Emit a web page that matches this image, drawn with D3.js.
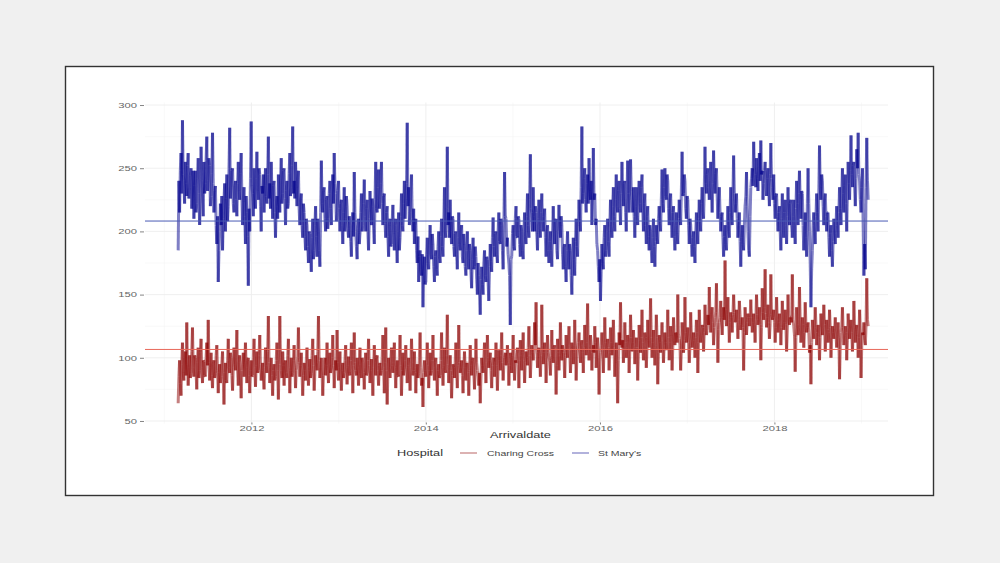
<!DOCTYPE html>
<html>
<head>
<meta charset="utf-8">
<script src="https://cdn.jsdelivr.net/npm/d3@7"></script>
<style>
  html, body { margin: 0; padding: 0; background: #f0f0f0; }
  svg { display: block; font-family: "Liberation Sans", Arial, sans-serif; }
</style>
</head>
<body>
<svg id="chart" width="1000" height="563"></svg>
<script>
// Daily arrivals sampled every third day, 28 Feb 2011 – 29 Jan 2019
const seriesStart = new Date(2011, 1, 28);
const sampleStepDays = 3;

const hospitals = ["Charing Cross", "St Mary's"];

const charingCross = [
  64,85, 98,80, 70,95, 112,88, 82,100, 105,86, 128,95, 78,92, 102,84, 88,105,
  124,92, 85,102, 100,88, 75,96, 108,84, 90,104, 115,92, 80,98, 97,86, 85,100,
  112,94, 130,96, 82,92, 104,86, 76,95, 98,84, 88,102, 110,90, 72,88, 95,80,
  85,96, 105,84, 63,88, 96,82, 80,98, 115,92, 88,104, 100,86, 74,92, 108,95,
  90,100, 122,90, 78,96, 102,84, 68,90, 95,104, 85,96, 112,92, 80,98, 100,86,
  72,90, 98,85, 86,100, 115,92, 77,94, 105,88, 90,102, 118,95, 82,90, 96,84,
  75,92, 108,94, 88,105, 133,96, 80,92, 100,86, 70,90, 95,82, 85,98, 112,90,
  67,95, 133,100, 90,84, 105,94, 78,96, 98,88, 84,102, 115,92, 72,90, 100,85,
  88,98, 110,92, 76,90, 95,100, 124,96, 85,94, 104,88, 70,86, 96,90, 82,98,
  108,92, 78,90, 99,84, 88,102, 115,94, 74,88, 102,96, 90,105, 133,98, 84,92,
  100,88, 70,86, 95,100, 86,94, 112,90, 80,95, 104,88, 92,100, 118,94, 76,90,
  98,90, 122,96, 82,92, 105,88, 74,90, 96,84, 88,98, 110,92, 79,94, 101,88,
  86,98, 112,90, 72,94, 120,96, 90,86, 100,92, 78,95, 108,88, 84,100, 96,88,
  75,92, 104,86, 88,98, 115,94, 80,90, 99,84, 70,92, 110,96, 86,100, 102,90,
  78,94, 96,86, 90,100, 118,92, 72,96, 124,90, 63,88, 100,92, 84,98, 108,94,
  88,96, 112,90, 76,92, 98,86, 85,100, 118,94, 70,90, 104,86, 92,98, 110,92,
  80,94, 100,88, 74,92, 115,96, 86,90, 105,92, 72,88, 95,84, 88,100, 120,92,
  78,84, 61,88, 98,90, 85,96, 112,94, 76,90, 104,86, 90,98, 118,92, 82,96,
  100,88, 70,90, 95,84, 86,98, 120,92, 78,94, 108,90, 88,102, 134,95, 80,92,
  102,90, 68,86, 95,92, 84,96, 112,88, 76,94, 126,96, 88,92, 98,86, 72,92,
  105,92, 82,96, 96,88, 70,90, 110,94, 86,98, 100,88, 75,92, 115,96, 90,86,
  78,88, 64,84, 100,94, 88,100, 112,92, 80,96, 118,100, 92,98, 104,90, 76,94,
  98,100, 85,96, 112,94, 74,92, 106,98, 90,102, 120,96, 82,94, 100,104, 94,98,
  110,96, 78,94, 104,100, 88,102, 118,96, 82,98, 96,104, 108,95, 76,98, 114,102,
  90,104, 120,98, 80,96, 105,100, 94,108, 125,102, 84,98, 110,104, 98,106, 128,110,
  144,108, 92,104, 108,100, 85,102, 142,110, 95,104, 112,100, 80,96, 118,104, 100,98,
  86,102, 122,100, 96,108, 110,98, 71,94, 115,104, 90,102, 128,106, 98,110, 104,100,
  84,102, 118,104, 100,110, 125,106, 88,100, 112,108, 95,104, 130,110, 82,100, 108,112,
  120,106, 96,110, 114,104, 88,108, 126,110, 102,112, 143,108, 98,106, 118,110, 90,104,
  110,104, 125,112, 92,106, 116,100, 71,98, 104,110, 120,106, 88,108, 132,112, 100,110,
  115,108, 90,104, 124,112, 102,110, 130,108, 85,100, 112,96, 64,98, 120,110, 144,115,
  108,114, 96,110, 128,112, 100,108, 118,114, 88,106, 134,116, 105,112, 122,110, 95,108,
  116,108, 82,104, 126,114, 104,116, 138,112, 98,110, 120,116, 92,108, 130,114, 108,118,
  147,116, 100,112, 122,108, 94,110, 134,116, 79,104, 118,112, 104,118, 128,114, 96,110,
  120,112, 106,118, 138,116, 98,112, 125,118, 90,108, 132,114, 110,120, 118,112, 150,118,
  115,110, 90,106, 128,118, 104,114, 148,120, 112,116, 124,112, 96,110, 136,118, 108,114,
  120,114, 100,116, 130,120, 88,112, 138,122, 112,118, 126,124, 105,120, 142,126, 118,122,
  134,126, 156,130, 120,134, 140,128, 110,124, 132,136, 159,128, 96,122, 128,132, 145,130,
  118,132, 140,130, 177,138, 125,134, 148,130, 112,128, 136,132, 120,134, 150,136, 128,130,
  138,128, 115,130, 145,134, 122,126, 132,124, 90,120, 140,130, 118,128, 135,132, 125,130,
  146,132, 120,128, 135,126, 112,130, 150,134, 126,130, 140,126, 98,124, 155,136, 130,140,
  170,135, 124,132, 142,128, 115,126, 166,134, 130,132, 138,128, 112,124, 148,130, 120,128,
  135,126, 110,124, 145,130, 122,128, 138,126, 105,122, 150,130, 126,132, 132,128, 166,130,
  125,118, 89,116, 140,126, 118,124, 156,130, 112,122, 132,126, 108,120, 144,126, 120,124,
  128,120, 104,110, 79,112, 130,122, 115,124, 140,126, 110,120, 126,118, 98,116, 135,124,
  118,124, 142,126, 105,118, 130,122, 112,120, 138,124, 100,116, 125,120, 115,122, 132,118,
  108,118, 128,116, 83,110, 120,124, 140,122, 110,118, 125,120, 98,114, 135,124, 115,122,
  130,120, 105,118, 145,126, 112,122, 126,118, 100,116, 138,122, 84,110, 120,118, 128,114,
  110,126, 163,130, 125
];

const stMarys = [
  185,240, 215,248, 262,230, 288,245, 240,222, 255,238, 228,252, 262,226, 235,244, 250,218,
  232,248, 210,236, 248,215, 222,242, 258,230, 205,228, 267,240, 228,212, 255,230, 238,256,
  275,232, 240,258, 252,220, 228,246, 278,238, 215,232, 236,205, 190,212, 160,185, 200,222,
  205,228, 185,210, 225,238, 200,226, 245,208, 220,250, 282,226, 235,248, 250,222, 215,236,
  240,225, 212,238, 255,232, 225,246, 262,228, 205,224, 235,212, 190,228, 215,196, 157,218,
  200,242, 287,236, 230,212, 250,228, 218,242, 263,232, 225,250, 245,220, 200,236, 230,245,
  215,236, 250,228, 222,245, 275,226, 238,218, 255,232, 210,236, 240,215, 195,220, 228,210,
  245,228, 215,240, 258,222, 230,248, 250,226, 205,232, 240,218, 222,246, 262,228, 235,252,
  283,230, 240,226, 255,235, 220,242, 248,218, 205,225, 230,205, 195,222, 215,196, 185,210,
  205,188, 175,200, 198,182, 168,195, 210,178, 185,205, 220,196, 180,210, 200,185, 172,215,
  256,222, 215,232, 235,210, 200,225, 228,202, 210,230, 240,218, 205,228, 245,222, 262,238,
  230,208, 215,232, 240,218, 200,222, 225,205, 190,215, 235,200, 210,228, 220,202, 195,212,
  205,192, 180,206, 215,196, 247,215, 200,188, 178,202, 210,190, 198,215, 230,200, 205,222,
  241,212, 200,218, 225,200, 185,210, 232,215, 205,226, 220,202, 190,225, 255,218, 215,235,
  249,218, 225,238, 255,222, 205,228, 230,206, 195,215, 220,196, 180,205, 210,188, 190,208,
  221,198, 185,205, 210,190, 175,200, 215,185, 195,212, 230,205, 200,222, 240,210, 225,238,
  286,220, 235,205, 215,232, 245,210, 200,218, 190,205, 210,185, 175,196, 160,180, 185,170,
  165,182, 140,168, 180,158, 160,182, 195,175, 170,190, 205,182, 178,198, 190,172, 160,180,
  185,170, 165,188, 200,180, 175,196, 210,188, 180,205, 235,200, 195,218, 267,205, 215,195,
  225,200, 190,212, 210,188, 180,198, 200,182, 170,195, 215,190, 185,200, 205,180, 175,198,
  190,172, 165,185, 200,178, 170,190, 185,168, 155,178, 195,170, 172,188, 180,162, 150,175,
  165,150, 134,162, 172,158, 150,175, 185,165, 160,180, 178,160, 145,172, 190,176, 168,195,
  211,188, 180,198, 200,182, 175,200, 215,192, 190,210, 205,185, 170,205, 247,212, 210,188,
  195,182, 175,165, 126,178, 180,198, 205,188, 185,210, 220,196, 195,212, 210,190, 180,205,
  200,185, 178,200, 215,196, 190,212, 230,205, 195,225, 261,218, 215,200, 235,212, 200,220,
  215,198, 185,210, 225,202, 195,215, 230,208, 200,212, 218,195, 180,200, 205,185, 175,192,
  200,185, 172,198, 220,200, 190,208, 210,185, 178,200, 221,202, 195,212, 205,182, 170,188,
  190,172, 160,185, 200,180, 170,190, 185,165, 150,175, 195,178, 165,192, 210,188, 180,205,
  225,210, 200,235, 283,222, 230,242, 250,225, 215,238, 245,222, 258,232, 225,240, 205,228,
  266,225, 230,205, 210,190, 185,172, 160,178, 145,168, 190,175, 170,195, 205,180, 185,200,
  210,192, 180,205, 225,205, 195,220, 235,212, 200,225, 245,220, 215,232, 240,218, 205,230,
  255,232, 220,238, 240,215, 200,228, 256,230, 215,240, 257,232, 225,215, 235,212, 195,220,
  235,212, 205,228, 240,222, 215,235, 245,218, 200,222, 230,205, 190,212, 220,196, 185,205,
  200,185, 175,195, 210,188, 172,192, 205,195, 190,210, 220,206, 200,225, 249,222, 215,235,
  250,228, 225,245, 240,218, 205,225, 230,208, 195,215, 220,196, 185,205, 215,198, 190,210,
  225,210, 205,232, 263,228, 230,245, 240,218, 210,228, 225,205, 190,210, 205,190, 180,195,
  200,188, 175,198, 215,200, 190,210, 225,208, 200,222, 235,215, 210,232, 267,238, 230,245,
  250,235, 225,240, 255,232, 215,238, 264,240, 230,246, 250,228, 210,225, 235,215, 200,212,
  215,195, 180,196, 205,190, 185,205, 220,200, 195,215, 235,212, 205,228, 260,230, 215,222,
  230,210, 195,205, 215,192, 172,195, 205,190, 185,205, 220,228, 247,220, 200,185, 180,212,
  235,242, 250,236, 271,250, 245,235, 258,242, 232,250, 262,240, 272,245, 248,225, 238,248,
  255,240, 228,242, 250,232, 220,245, 270,242, 235,225, 245,222, 210,228, 230,212, 200,215,
  220,200, 185,210, 230,208, 195,215, 225,205, 190,212, 235,215, 205,222, 225,205, 195,212,
  225,205, 190,218, 240,222, 205,230, 248,225, 210,232, 230,205, 185,200, 215,195, 180,222,
  250,222, 200,175, 140,170, 185,205, 215,200, 190,212, 230,215, 200,232, 268,235, 225,245,
  240,220, 205,225, 230,212, 200,215, 215,195, 180,198, 205,185, 172,192, 210,198, 190,205,
  220,205, 195,215, 235,218, 205,228, 250,230, 215,236, 245,222, 200,232, 255,238, 225,248,
  276,245, 235,252, 255,235, 220,242, 265,250, 278,245, 240,225, 215,235, 250,205, 165,190,
  170,235, 274,240, 225
];

// Overall mean arrivals per hospital (reference lines)
const hospitalMeans = [106.6, 208.2];

const yTickValues = [50, 100, 150, 200, 250, 300];
const xTickYears = [2012, 2014, 2016, 2018];

// ---- layout ----
const svg = d3.select("#chart");
const W = 1000, H = 563;
const panel = { left: 145, right: 888, top: 102.5, bottom: 423.5 };
const colours = ["#8b0000", "#00008b"];
const meanColours = ["#e8685a", "#4a5bb5"];
const textStretch = 1.5;

svg.append("rect").attr("width", W).attr("height", H).attr("fill", "#f0f0f0");
svg.append("rect")
  .attr("x", 65.5).attr("y", 66.5).attr("width", 868).attr("height", 429)
  .attr("fill", "#ffffff").attr("stroke", "#333333").attr("stroke-width", 1.4);

const x = d3.scaleTime()
  .domain([new Date(2010, 9, 12), new Date(2019, 3, 22)])
  .range([panel.left, panel.right]);
const y = d3.scaleLinear()
  .domain([48, 302])
  .range([panel.bottom, panel.top]);

// gridlines (major + minor)
const grid = svg.append("g");
const yMinor = d3.range(75, 300, 50);
const xMinor = [2011, 2013, 2015, 2017, 2019];
grid.selectAll(".hmin").data(yMinor).join("line")
  .attr("x1", panel.left).attr("x2", panel.right)
  .attr("y1", d => y(d)).attr("y2", d => y(d))
  .attr("stroke", "#f5f5f5").attr("stroke-width", 0.6);
grid.selectAll(".vmin").data(xMinor).join("line")
  .attr("x1", d => x(new Date(d, 0, 1))).attr("x2", d => x(new Date(d, 0, 1)))
  .attr("y1", panel.top).attr("y2", panel.bottom)
  .attr("stroke", "#f5f5f5").attr("stroke-width", 0.6);
grid.selectAll(".hmaj").data(yTickValues).join("line")
  .attr("x1", panel.left).attr("x2", panel.right)
  .attr("y1", d => y(d)).attr("y2", d => y(d))
  .attr("stroke", "#ededed").attr("stroke-width", 0.9);
grid.selectAll(".vmaj").data(xTickYears).join("line")
  .attr("x1", d => x(new Date(d, 0, 1))).attr("x2", d => x(new Date(d, 0, 1)))
  .attr("y1", panel.top).attr("y2", panel.bottom)
  .attr("stroke", "#ededed").attr("stroke-width", 0.9);

// axes
function stretchLabels(sel) {
  sel.selectAll(".tick text").each(function () {
    const t = d3.select(this);
    t.attr("transform", `scale(${textStretch},1)`)
     .attr("x", (+t.attr("x") || 0) / textStretch);
  });
}
const yAxis = svg.append("g")
  .attr("transform", `translate(${panel.left - 1},0)`)
  .call(d3.axisLeft(y).tickValues(yTickValues).tickSize(4).tickPadding(3));
yAxis.select(".domain").remove();
yAxis.selectAll(".tick line").attr("stroke", "#666666").attr("stroke-width", 0.8);
yAxis.selectAll(".tick text").attr("fill", "#666666").attr("font-size", 7.5)
  .attr("font-family", "Liberation Sans, Arial, sans-serif");
stretchLabels(yAxis);

const xAxis = svg.append("g")
  .attr("transform", `translate(0,${panel.bottom - 1})`)
  .call(d3.axisBottom(x)
    .tickValues(xTickYears.map(yr => new Date(yr, 0, 1)))
    .tickFormat(d3.timeFormat("%Y"))
    .tickSize(2).tickPadding(1.5));
xAxis.select(".domain").remove();
xAxis.selectAll(".tick line").attr("stroke", "#666666").attr("stroke-width", 0.8);
xAxis.selectAll(".tick text").attr("fill", "#666666").attr("font-size", 7.5)
  .attr("font-family", "Liberation Sans, Arial, sans-serif");
stretchLabels(xAxis);

// series: each step drawn as its own translucent segment so overlaps darken
const dates = d3.range(stMarys.length).map(i => d3.timeDay.offset(seriesStart, i * sampleStepDays));
const series = [charingCross, stMarys];

series.forEach((vals, k) => {
  const segs = d3.pairs(vals.map((v, i) => ({ date: dates[i], value: v })));
  svg.append("g").selectAll("line").data(segs).join("line")
    .attr("x1", d => x(d[0].date)).attr("y1", d => y(d[0].value))
    .attr("x2", d => x(d[1].date)).attr("y2", d => y(d[1].value))
    .attr("stroke", colours[k])
    .attr("stroke-opacity", 0.5)
    .attr("stroke-width", 3)
    .attr("stroke-linecap", "butt");
});

// mean reference lines
svg.selectAll(".mean").data(hospitalMeans).join("line")
  .attr("class", "mean")
  .attr("x1", panel.left).attr("x2", panel.right)
  .attr("y1", d => y(d)).attr("y2", d => y(d))
  .attr("stroke", (d, i) => meanColours[i])
  .attr("stroke-width", 1);

// text helper with horizontal stretch
function stretchedText(tx, ty, str, size, anchor, fill) {
  svg.append("text")
    .attr("transform", `translate(${tx},${ty}) scale(${textStretch},1)`)
    .attr("text-anchor", anchor)
    .attr("font-size", size)
    .attr("fill", fill)
    .text(str);
}

// axis title
stretchedText((panel.left + panel.right) / 2 + 4, 437.5, "Arrivaldate", 8.5, "middle", "#333333");

// legend
const legendY = 453;
stretchedText(397, legendY + 3, "Hospital", 8.5, "start", "#333333");
const keyX = [460, 572];
const labelX = [487, 598];
hospitals.forEach((h, i) => {
  svg.append("line")
    .attr("x1", keyX[i]).attr("x2", keyX[i] + 17)
    .attr("y1", legendY).attr("y2", legendY)
    .attr("stroke", colours[i]).attr("stroke-opacity", 0.5).attr("stroke-width", 1.2);
  stretchedText(labelX[i], legendY + 2.5, h, 7, "start", "#444444");
});
</script>
</body>
</html>
